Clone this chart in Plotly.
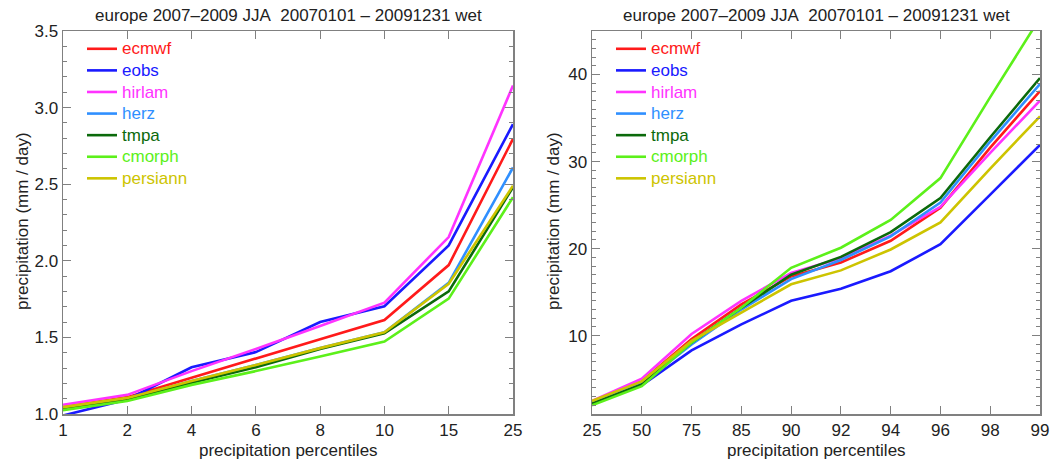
import plotly.graph_objects as go

# ---------------- data ----------------
left_pct = ["1", "2", "4", "6", "8", "10", "15", "25"]
right_pct = ["25", "50", "75", "85", "90", "92", "94", "96", "98", "99"]

series_names = ["ecmwf", "eobs", "hirlam", "herz", "tmpa", "cmorph", "persiann"]
series_colors = ["#ff1a1a", "#1a1aff", "#ff33ff", "#2f8fff", "#0b6a0b", "#5cf01a", "#cdc400"]

left_ecmwf = [1.045, 1.11, 1.237, 1.36, 1.488, 1.613, 1.972, 2.796]
left_eobs = [0.99, 1.095, 1.305, 1.404, 1.60, 1.703, 2.10, 2.892]
left_hirlam = [1.06, 1.125, 1.28, 1.424, 1.574, 1.727, 2.155, 3.144]
left_herz = [1.04, 1.10, 1.215, 1.32, 1.43, 1.533, 1.856, 2.609]
left_tmpa = [1.03, 1.095, 1.204, 1.305, 1.424, 1.527, 1.80, 2.48]
left_cmorph = [1.025, 1.085, 1.19, 1.28, 1.376, 1.473, 1.753, 2.415]
left_persiann = [1.045, 1.105, 1.215, 1.32, 1.43, 1.533, 1.85, 2.49]

right_ecmwf = [2.3, 4.75, 9.6, 13.6, 16.8, 18.4, 20.9, 24.7, 31.6, 38.1]
right_eobs = [2.2, 4.3, 8.3, 11.3, 14.0, 15.4, 17.4, 20.5, 26.2, 31.9]
right_hirlam = [2.5, 5.06, 10.2, 14.0, 17.2, 18.9, 21.5, 24.8, 31.0, 37.0]
right_herz = [2.3, 4.5, 9.0, 13.0, 16.5, 18.7, 21.4, 25.3, 32.3, 38.9]
right_tmpa = [2.2, 4.4, 9.2, 13.2, 17.0, 19.05, 21.9, 25.8, 32.8, 39.6]
right_cmorph = [2.0, 4.2, 9.2, 13.2, 17.8, 20.1, 23.3, 28.1, 37.4, 46.5]
right_persiann = [2.5, 4.75, 9.4, 12.7, 15.9, 17.5, 19.9, 23.0, 29.2, 35.2]

left_values = [left_ecmwf, left_eobs, left_hirlam, left_herz, left_tmpa, left_cmorph, left_persiann]
right_values = [right_ecmwf, right_eobs, right_hirlam, right_herz, right_tmpa, right_cmorph, right_persiann]

title_text = "europe 2007\u20132009 JJA&nbsp; 20070101 \u2013 20091231 wet"
xlabel = "precipitation percentiles"
ylabel = "precipitation (mm / day)"

# ---------------- figure ----------------
W, H = 1052, 461
FONT = "Liberation Sans, Arial, Helvetica, sans-serif"
AXC = "#808080"
TXT = "#222222"
FS = 17

# plot-area geometry in window pixels
L, R, T, B = 63, 1040, 31, 414
lx0, lx1 = 63, 513
rx0, rx1 = 592, 1040


def fx(x):
    return (x - L) / (R - L)


def fy(y):
    return (B - y) / (B - T)


fig = go.Figure()

for name, col, vals in zip(series_names, series_colors, left_values):
    fig.add_trace(go.Scatter(
        x=left_pct, y=vals, mode="lines", line=dict(color=col, width=2.6),
        name=f"<span style='color:{col};font-size:{FS}px'>{name}</span>",
        xaxis="x", yaxis="y", legend="legend", hoverinfo="skip"))

for name, col, vals in zip(series_names, series_colors, right_values):
    fig.add_trace(go.Scatter(
        x=right_pct, y=vals, mode="lines", line=dict(color=col, width=2.6),
        name=f"<span style='color:{col};font-size:{FS}px'>{name}</span>",
        xaxis="x2", yaxis="y2", legend="legend2", hoverinfo="skip"))

common_axis = dict(
    showline=True, linecolor=AXC, linewidth=1.5, mirror="ticks",
    ticks="inside", ticklen=8, tickwidth=1.2, tickcolor=AXC,
    showgrid=False, zeroline=False, automargin=False,
    tickfont=dict(family=FONT, size=FS, color=TXT),
)

legend_common = dict(xanchor="left", yanchor="top", bgcolor="rgba(0,0,0,0)",
                     font=dict(family=FONT, size=14.3), tracegroupgap=0,
                     itemwidth=30, borderwidth=0)

fig.update_layout(
    width=W, height=H,
    margin=dict(l=L, r=W - R, t=T, b=H - B, pad=0),
    paper_bgcolor="white", plot_bgcolor="white",
    font=dict(family=FONT, size=FS, color=TXT),
    xaxis=dict(domain=[fx(lx0), fx(lx1)], anchor="y", type="category",
               range=[0, len(left_pct) - 1], **common_axis),
    yaxis=dict(domain=[0, 1], anchor="x", range=[1.0, 3.5],
               dtick=0.5, tickformat=".1f",
               minor=dict(dtick=0.1, ticks="inside", ticklen=4, tickcolor=AXC, tickwidth=1),
               **common_axis),
    xaxis2=dict(domain=[fx(rx0), fx(rx1)], anchor="y2", type="category",
                range=[0, len(right_pct) - 1], **common_axis),
    yaxis2=dict(domain=[0, 1], anchor="x2", range=[1, 45],
                tickvals=[10, 20, 30, 40],
                minor=dict(dtick=1, ticks="inside", ticklen=4, tickcolor=AXC, tickwidth=1),
                **common_axis),
    legend=dict(x=fx(82), y=fy(33), **legend_common),
    legend2=dict(x=fx(611), y=fy(33), **legend_common),
    showlegend=True,
)

annotations = []
for x0, x1 in [(lx0, lx1), (rx0, rx1)]:
    cx = fx((x0 + x1) / 2)
    annotations.append(dict(text=title_text, x=cx, y=fy(15), xref="paper", yref="paper",
                            showarrow=False, xanchor="center", yanchor="middle",
                            font=dict(family=FONT, size=FS, color=TXT)))
    annotations.append(dict(text=xlabel, x=cx, y=fy(450), xref="paper", yref="paper",
                            showarrow=False, xanchor="center", yanchor="middle",
                            font=dict(family=FONT, size=FS, color=TXT)))
for xl in (22, 553):
    annotations.append(dict(text=ylabel, x=fx(xl), y=fy(221), xref="paper", yref="paper",
                            showarrow=False, textangle=-90, xanchor="center", yanchor="middle",
                            font=dict(family=FONT, size=FS, color=TXT)))
fig.update_layout(annotations=annotations)

# remove the browser's default page margin so the figure sits at the window origin
fig.write_html("out.html", config={"displayModeBar": False, "staticPlot": True},
               post_script="document.body.style.margin='0px';")
